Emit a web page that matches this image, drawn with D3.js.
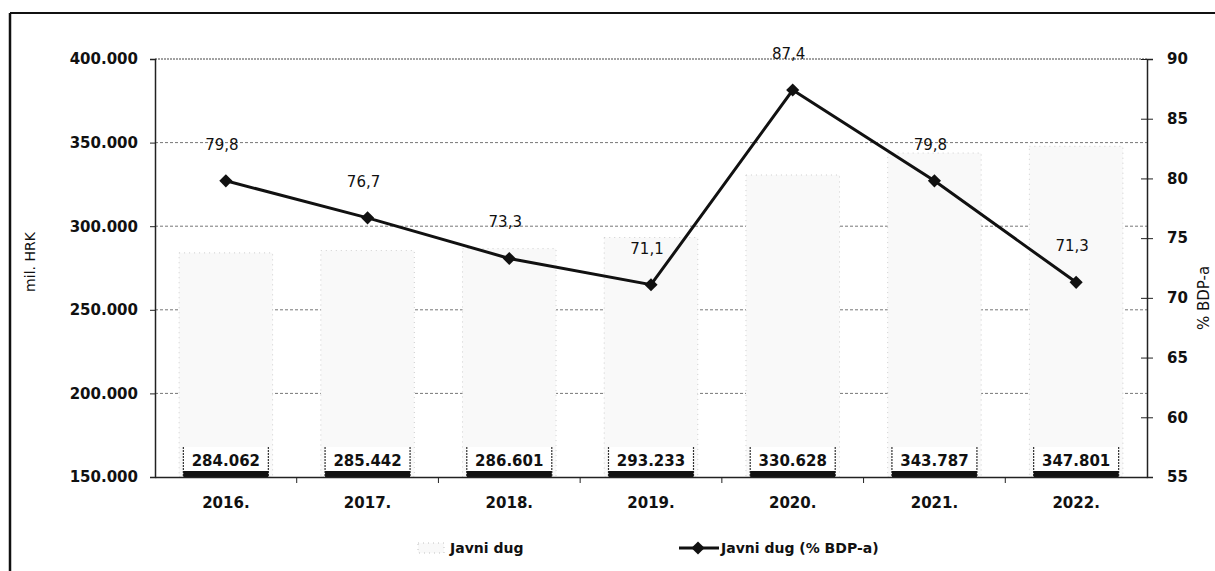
<!DOCTYPE html>
<html>
<head>
<meta charset="utf-8">
<script src="https://cdn.jsdelivr.net/npm/d3@7"></script>
<style>
  html, body { margin: 0; padding: 0; background: #fff; }
  svg { display: block; font-family: "DejaVu Sans", sans-serif; }
</style>
</head>
<body>
<svg id="chart" width="1215" height="571"></svg>
<script>
const categories = ["2016.", "2017.", "2018.", "2019.", "2020.", "2021.", "2022."];
const debtValues = [284062, 285442, 286601, 293233, 330628, 343787, 347801];
const debtLabels = ["284.062", "285.442", "286.601", "293.233", "330.628", "343.787", "347.801"];
const gdpShare = [79.8, 76.7, 73.3, 71.1, 87.4, 79.8, 71.3];
const gdpLabels = ["79,8", "76,7", "73,3", "71,1", "87,4", "79,8", "71,3"];
const leftTicks = [150000, 200000, 250000, 300000, 350000, 400000];
const leftTickLabels = ["150.000", "200.000", "250.000", "300.000", "350.000", "400.000"];
const rightTicks = [55, 60, 65, 70, 75, 80, 85, 90];
const seriesNames = ["Javni dug", "Javni dug (% BDP-a)"];
const axisTitles = ["mil. HRK", "% BDP-a"];

const svg = d3.select("#chart");
const m = { left: 155, right: 1147, top: 59, bottom: 477 };
const FONT = "DejaVu Sans, sans-serif";

// outer frame (left and top edges only)
svg.append("line").attr("x1", 10).attr("x2", 10).attr("y1", 13).attr("y2", 571)
  .attr("stroke", "#111").attr("stroke-width", 2.5);
svg.append("line").attr("x1", 10).attr("x2", 1215).attr("y1", 13).attr("y2", 13)
  .attr("stroke", "#111").attr("stroke-width", 2);

const x = d3.scaleBand().domain(categories).range([m.left, m.right]).paddingInner(0.34).paddingOuter(0.17);
const xb = d3.scaleBand().domain(categories).range([m.left, m.right]);
const yL = d3.scaleLinear().domain([150000, 400000]).range([m.bottom, m.top]);
const yR = d3.scaleLinear().domain([55, 90]).range([m.bottom, m.top]);

// gridlines
svg.append("g").selectAll("line").data(leftTicks.slice(1)).join("line")
  .attr("x1", m.left).attr("x2", m.right)
  .attr("y1", d => yL(d)).attr("y2", d => yL(d))
  .attr("stroke", d => d === 400000 ? "#444" : "#777")
  .attr("stroke-width", 1)
  .attr("stroke-dasharray", d => d === 400000 ? "2,1" : "3,2");

// bars
const barFill = "#f9f9f9";
svg.append("g").selectAll("rect").data(debtValues).join("rect")
  .attr("x", (d, i) => x(categories[i]))
  .attr("width", x.bandwidth())
  .attr("y", d => yL(d))
  .attr("height", d => m.bottom - yL(d))
  .attr("fill", barFill)
  .attr("stroke", "#bbb").attr("stroke-width", 0.7).attr("stroke-dasharray", "1,4");

// bar value labels (boxes at the base)
const lblW = 85, lblH = 30;
const lg = svg.append("g");
debtValues.forEach((d, i) => {
  const cx = x(categories[i]) + x.bandwidth() / 2;
  const g = lg.append("g");
  g.append("rect").attr("x", cx - lblW / 2).attr("y", m.bottom - lblH).attr("width", lblW).attr("height", lblH)
    .attr("fill", "#fff");
  [cx - lblW / 2, cx + lblW / 2].forEach(xx => {
    g.append("line").attr("x1", xx).attr("x2", xx).attr("y1", m.bottom - lblH).attr("y2", m.bottom)
      .attr("stroke", "#333").attr("stroke-width", 1.2).attr("stroke-dasharray", "2,1");
  });
  g.append("rect").attr("x", cx - lblW / 2).attr("y", m.bottom - 6).attr("width", lblW).attr("height", 6)
    .attr("fill", "#111");
  g.append("text").attr("x", cx).attr("y", m.bottom - 16).attr("text-anchor", "middle")
    .attr("dominant-baseline", "central").attr("font-size", 15).attr("font-weight", "bold")
    .attr("fill", "#111").text(debtLabels[i]);
});

// axes
const axL = d3.axisLeft(yL).tickValues(leftTicks).tickSize(5).tickPadding(12)
  .tickFormat((d, i) => leftTickLabels[i]);
const gL = svg.append("g").attr("transform", `translate(${m.left},0)`).call(axL);
gL.select(".domain").attr("stroke", "#222").attr("stroke-width", 1.5);
gL.selectAll(".tick line").attr("stroke", "#222");
gL.selectAll("text").attr("font-size", 15).attr("font-weight", "bold").attr("fill", "#111")
  .attr("font-family", FONT);

const axR = d3.axisRight(yR).tickValues(rightTicks).tickSize(6).tickPadding(14);
const gR = svg.append("g").attr("transform", `translate(${m.right},0)`).call(axR);
gR.select(".domain").attr("stroke", "#222").attr("stroke-width", 1.5);
gR.selectAll(".tick line").attr("stroke", "#222").attr("x1", -6);
gR.selectAll("text").attr("font-size", 15).attr("font-weight", "bold").attr("fill", "#111")
  .attr("font-family", FONT);

const axB = d3.axisBottom(xb).tickSize(0).tickPadding(20);
const gB = svg.append("g").attr("transform", `translate(0,${m.bottom})`).call(axB);
gB.select(".domain").attr("stroke", "#222").attr("stroke-width", 1.5);
gB.selectAll("text").attr("font-size", 15).attr("font-weight", "bold").attr("fill", "#111")
  .attr("font-family", FONT);
// tick marks at category boundaries
svg.append("g").selectAll("line").data(categories.slice(1)).join("line")
  .attr("x1", d => xb(d)).attr("x2", d => xb(d))
  .attr("y1", m.bottom).attr("y2", m.bottom + 6)
  .attr("stroke", "#222").attr("stroke-width", 1);

// line series
const cxOf = i => xb(categories[i]) + xb.bandwidth() / 2;
const line = d3.line().x((d, i) => cxOf(i)).y(d => yR(d));
svg.append("path").datum(gdpShare).attr("d", line)
  .attr("fill", "none").attr("stroke", "#111").attr("stroke-width", 3);
const diamond = d3.symbol().type(d3.symbolDiamond2).size(110);
svg.append("g").selectAll("path").data(gdpShare).join("path")
  .attr("d", diamond)
  .attr("transform", (d, i) => `translate(${cxOf(i)},${yR(d)})`)
  .attr("fill", "#111");
svg.append("g").selectAll("text").data(gdpShare).join("text")
  .attr("x", (d, i) => cxOf(i) - 4)
  .attr("y", d => yR(d) - 36)
  .attr("text-anchor", "middle").attr("dominant-baseline", "central")
  .attr("font-size", 15).attr("fill", "#111")
  .text((d, i) => gdpLabels[i]);

// axis titles
svg.append("text").attr("transform", "translate(35,262) rotate(-90)")
  .attr("text-anchor", "middle").attr("font-size", 14).attr("fill", "#111").text(axisTitles[0]);
svg.append("text").attr("transform", "translate(1209,298) rotate(-90)")
  .attr("text-anchor", "middle").attr("font-size", 15).attr("fill", "#111").text(axisTitles[1]);

// legend
const legY = 548;
const leg = svg.append("g");
leg.append("rect").attr("x", 418).attr("y", legY - 5).attr("width", 26).attr("height", 10)
  .attr("fill", barFill).attr("stroke", "#aaa").attr("stroke-width", 0.7).attr("stroke-dasharray", "1,4");
leg.append("text").attr("x", 450).attr("y", legY).attr("dominant-baseline", "central")
  .attr("font-size", 14).attr("font-weight", "bold").attr("fill", "#111").text(seriesNames[0]);
leg.append("line").attr("x1", 679).attr("x2", 719).attr("y1", legY).attr("y2", legY)
  .attr("stroke", "#111").attr("stroke-width", 3);
leg.append("path").attr("d", diamond).attr("transform", `translate(698,${legY})`).attr("fill", "#111");
leg.append("text").attr("x", 721).attr("y", legY).attr("dominant-baseline", "central")
  .attr("font-size", 14).attr("font-weight", "bold").attr("fill", "#111").text(seriesNames[1]);
</script>
</body>
</html>
